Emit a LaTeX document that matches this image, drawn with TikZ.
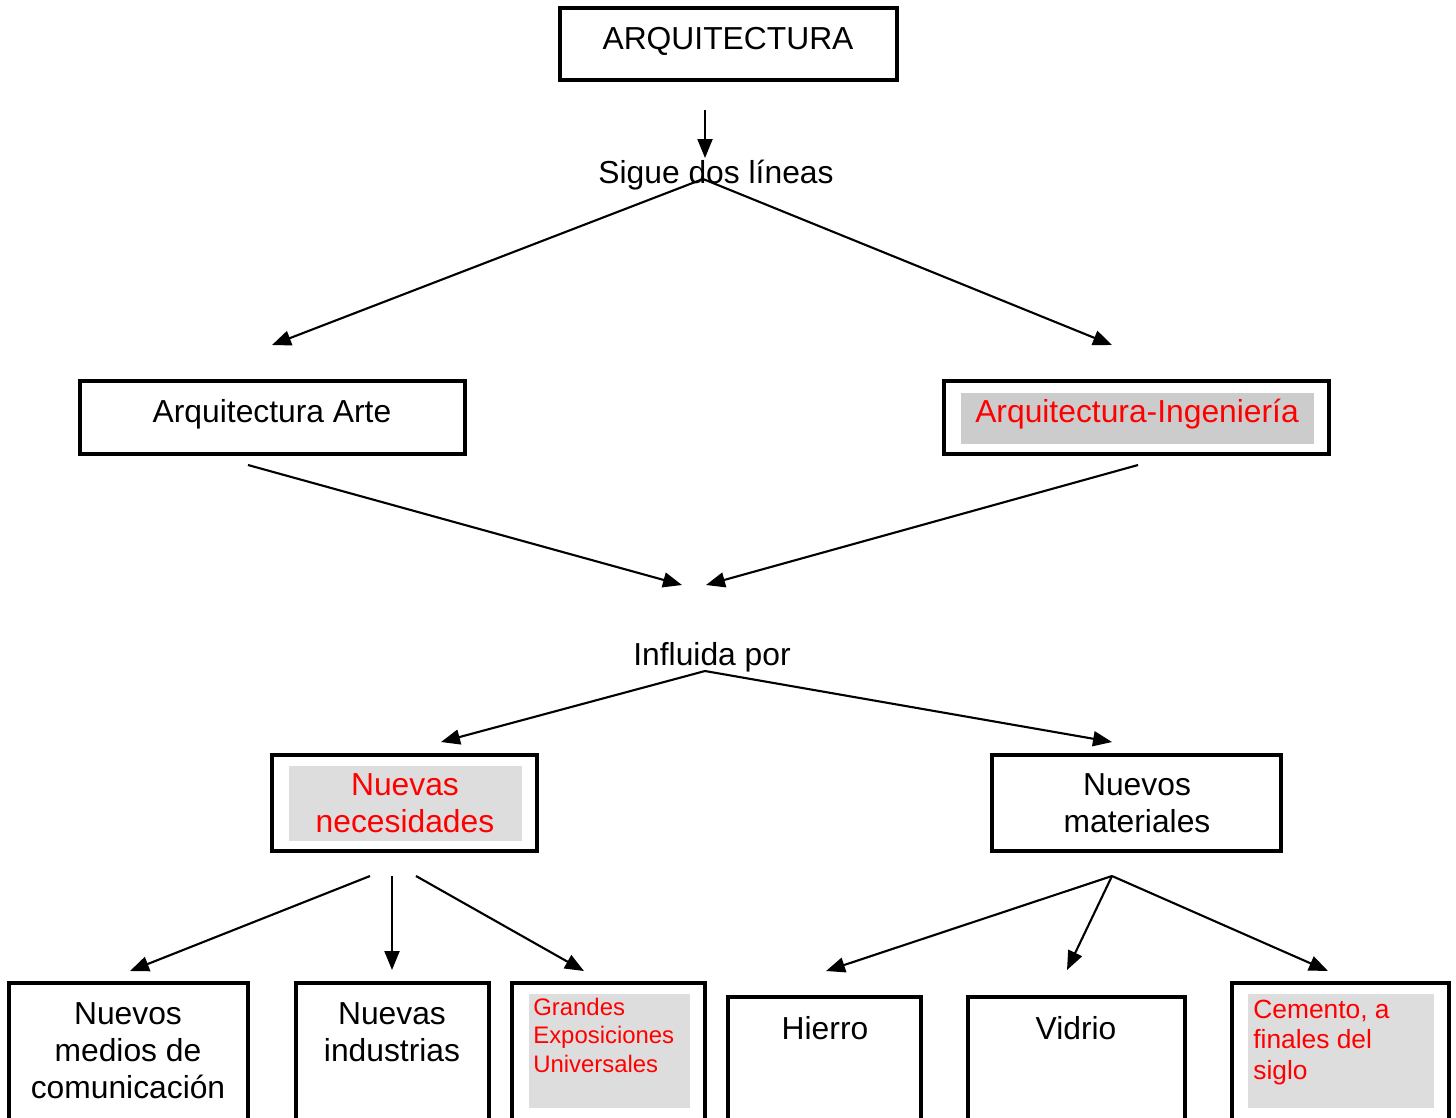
\documentclass[tikz,border=0pt]{standalone}
\usepackage{fontspec}
\setmainfont{Liberation Sans}
\usetikzlibrary{arrows.meta}
\definecolor{redtxt}{RGB}{255,0,0}
\definecolor{greyA}{RGB}{204,204,204}
\definecolor{greyB}{RGB}{221,221,221}
\begin{document}
\begin{tikzpicture}[x=0.02cm,y=-0.02cm,
  box/.style={draw,line width=1.9pt,inner sep=0pt,outer sep=0pt},
  shade/.style={fill=#1,draw=none,inner sep=0pt,outer sep=0pt},
  txt/.style={font=\fontsize{18.1}{20.8}\selectfont,inner sep=0pt,anchor=base,align=center},
  smalltxt/.style={font=\fontsize{13.6}{16}\selectfont,inner sep=0pt,anchor=base west,align=left,text=redtxt},
  midtxt/.style={font=\fontsize{15}{17.2}\selectfont,inner sep=0pt,anchor=base west,align=left,text=redtxt},
  arr/.style={line width=1.2pt,-{Triangle[length=0.38cm,width=0.3cm]}}
]
\clip (0,0) rectangle (1456,1117);
\fill[white] (0,0) rectangle (1456,1117);

% boxes
\node[box,minimum width=6.74cm,minimum height=1.44cm] (arq) at (728.5,44) {};
\node[box,minimum width=7.7cm,minimum height=1.46cm] (arte) at (272.5,417.5) {};
\node[box,minimum width=7.7cm,minimum height=1.46cm] (ing) at (1136.5,417.5) {};
\node[shade=greyA,minimum width=7.06cm,minimum height=1.02cm] (inggrey) at (1137.5,418.5) {};
\node[box,minimum width=5.3cm,minimum height=1.92cm] (nec) at (404.5,803) {};
\node[shade=greyB,minimum width=4.66cm,minimum height=1.5cm] (necgrey) at (405.5,803.5) {};
\node[box,minimum width=5.78cm,minimum height=1.92cm] (mat) at (1136.5,803) {};
\node[box,minimum width=4.78cm,minimum height=3.14cm] (med) at (128.5,1061.5) {};
\node[box,minimum width=3.86cm,minimum height=3.14cm] (ind) at (392.5,1061.5) {};
\node[box,minimum width=3.86cm,minimum height=3.14cm] (exp) at (608.5,1061.5) {};
\node[shade=greyB,minimum width=3.22cm,minimum height=2.28cm] (expgrey) at (609.5,1051) {};
\node[box,minimum width=3.86cm,minimum height=2.86cm] (hie) at (824.5,1068.5) {};
\node[box,minimum width=4.34cm,minimum height=2.86cm] (vid) at (1076.5,1068.5) {};
\node[box,minimum width=4.34cm,minimum height=3.14cm] (cem) at (1340.5,1061.5) {};
\node[shade=greyB,minimum width=3.72cm,minimum height=2.28cm] (cemgrey) at (1341,1051) {};

% texts (base anchor = baseline of last line)
\node[txt] (tarq) at (728,49) {ARQUITECTURA};
\node[txt] (tsig) at (716,183) {Sigue dos líneas};
\node[txt] (tarte) at (272,422) {Arquitectura Arte};
\node[txt,text=redtxt] (ting) at (1137,422) {Arquitectura-Ingeniería};
\node[txt] (tinf) at (712,665) {Influida por};
\node[txt,text=redtxt] (tnec) at (405,832) {Nuevas\\necesidades};
\node[txt] (tmat) at (1137,832) {Nuevos\\materiales};
\node[txt] (tmed) at (128,1098) {Nuevos\\medios de\\comunicación};
\node[txt] (tind) at (392,1061) {Nuevas\\industrias};
\node[smalltxt] (texp) at (533,1072) {Grandes\\Exposiciones\\Universales};
\node[txt] (thie) at (825,1039) {Hierro};
\node[txt] (tvid) at (1076,1039) {Vidrio};
\node[midtxt] (tcem) at (1253,1079) {Cemento, a\\finales del\\siglo};

% connector end points
\coordinate (a0) at (705,110);
\coordinate (a1) at (705,158);
\coordinate (sg) at (703,179);
\coordinate (sgL) at (272,345);
\coordinate (sgR) at (1112,345);
\coordinate (arteS) at (248,465);
\coordinate (ingS) at (1138,465);
\coordinate (mL) at (682,585);
\coordinate (mR) at (706,585);
\coordinate (inf) at (705,671);
\coordinate (infL) at (441,742);
\coordinate (infR) at (1112,742);
\coordinate (n1) at (370,876);
\coordinate (n2) at (392,876);
\coordinate (n3) at (416,876);
\coordinate (e1) at (130,971);
\coordinate (e2) at (392,970);
\coordinate (e3) at (584,971);
\coordinate (m0) at (1112,876);
\coordinate (f1) at (826,971);
\coordinate (f2) at (1067,970);
\coordinate (f3) at (1328,971);

% connectors
\draw[arr] (a0) -- (a1);
\draw[arr] (sg) -- (sgL);
\draw[arr] (sg) -- (sgR);
\draw[arr] (arteS) -- (mL);
\draw[arr] (ingS) -- (mR);
\draw[arr] (inf) -- (infL);
\draw[arr] (inf) -- (infR);
\draw[arr] (n1) -- (e1);
\draw[arr] (n2) -- (e2);
\draw[arr] (n3) -- (e3);
\draw[arr] (m0) -- (f1);
\draw[arr] (m0) -- (f2);
\draw[arr] (m0) -- (f3);
\end{tikzpicture}
\end{document}
